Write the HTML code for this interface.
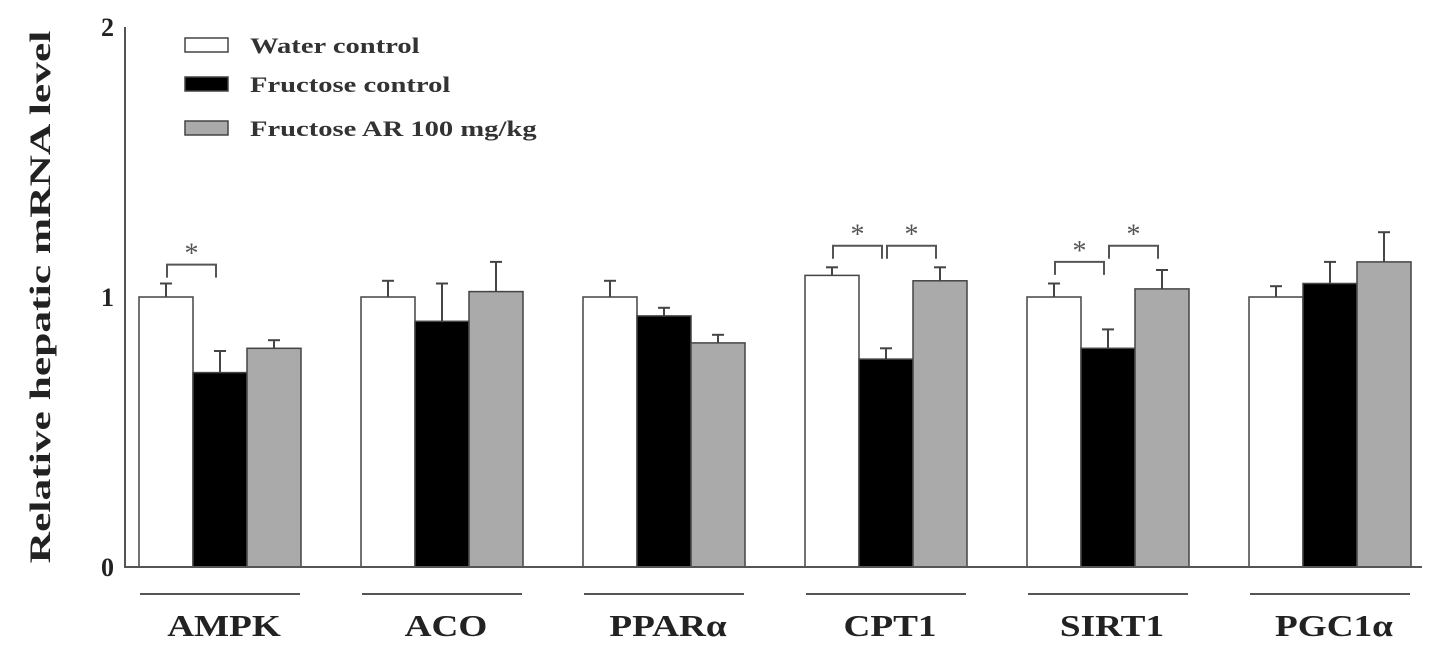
<!DOCTYPE html>
<html><head><meta charset="utf-8"><style>body{margin:0;background:#fff}svg{display:block;font-family:"Liberation Serif",serif}</style></head>
<body>
<svg id="c" width="1441" height="650"></svg>
<script>
const categories=["AMPK","ACO","PPARα","CPT1","SIRT1","PGC1α"];
const seriesNames=["Water control","Fructose control","Fructose AR 100 mg/kg"];
const water=[1.0,1.0,1.0,1.08,1.0,1.0];
const waterErr=[0.05,0.06,0.06,0.03,0.05,0.04];
const fructose=[0.72,0.91,0.93,0.77,0.81,1.05];
const fructoseErr=[0.08,0.14,0.03,0.04,0.07,0.08];
const ar=[0.81,1.02,0.83,1.06,1.03,1.13];
const arErr=[0.03,0.11,0.03,0.05,0.07,0.11];
const yTicks=[0,1,2];
const sig=[[0,0,1,1.12],[3,0,1,1.19],[3,1,2,1.19],[4,0,1,1.13],[4,1,2,1.19]];
const NS="http://www.w3.org/2000/svg",svg=document.getElementById('c');
const y=v=>567-v*270, gx=i=>220+i*222, bw=54;
function mk(t,a,txt){const e=document.createElementNS(NS,t);for(const k in a)e.setAttribute(k,a[k]);if(txt!=null)e.textContent=txt;svg.appendChild(e);return e;}
const fills=["#fff","#000","#aaa"],vals=[water,fructose,ar],errs=[waterErr,fructoseErr,arErr];
categories.forEach((c,i)=>{
 for(let s=0;s<3;s++){
  const x=gx(i)-81+s*bw,v=vals[s][i],e=errs[s][i],cx=x+bw/2;
  let l=mk('line',{x1:cx,x2:cx,y1:y(v),y2:y(v+e),stroke:'#444','stroke-width':2});
  
  
  l=mk('line',{x1:cx-6,x2:cx+6,y1:y(v+e),y2:y(v+e),stroke:'#444','stroke-width':2});
  
  
  const r=mk('rect',{x:x,y:y(v),width:bw,height:y(0)-y(v),fill:fills[s],stroke:'#444','stroke-width':1.5});
  
  
 }
 const u=mk('line',{x1:gx(i)-80,x2:gx(i)+80,y1:594,y2:594,stroke:'#555','stroke-width':2});
 
 
 const t=mk('text',{x:0,y:0,transform:`translate(${gx(i)+4},636) scale(1.2,1)`,'text-anchor':'middle','font-size':31,'font-weight':'bold',fill:'#222'},c);
 
 
});
sig.forEach(([g,a,b,v])=>{
 const x1=gx(g)-81+a*bw+bw/2+1,x2=gx(g)-81+b*bw+bw/2-4,yy=y(v);
 const p=mk('path',{d:`M${x1} ${yy+13}V${yy}H${x2}V${yy+13}`,fill:'none',stroke:'#555','stroke-width':2});
 
 
 const t=mk('text',{x:(x1+x2)/2,y:yy-2,'text-anchor':'middle','font-size':28,fill:'#555'},'*');
 
 
});
let a=mk('line',{x1:125,x2:125,y1:27,y2:567,stroke:'#555','stroke-width':2});


a=mk('line',{x1:124,x2:1422,y1:567,y2:567,stroke:'#555','stroke-width':2});


yTicks.forEach(v=>{const t=mk('text',{x:114,y:y(v)+9,'text-anchor':'end','font-size':26,'font-weight':'bold',fill:'#222'},v);
 
 });
const yt=mk('text',{x:0,y:0,transform:'translate(50,297) rotate(-90) scale(1.45,1)','text-anchor':'middle','font-size':30,'font-weight':'bold',fill:'#222'},'Relative hepatic mRNA level');


seriesNames.forEach((n,s)=>{const yy=[38,77,121][s];
 const r=mk('rect',{x:185,y:yy,width:43,height:14,fill:fills[s],stroke:'#444','stroke-width':1.5});
 
 
 const t=mk('text',{x:0,y:0,transform:`translate(250,${yy+15}) scale(1.3,1)`,'font-size':22,'font-weight':'bold',fill:'#333'},n);
 
 });
</script>
</body></html>
